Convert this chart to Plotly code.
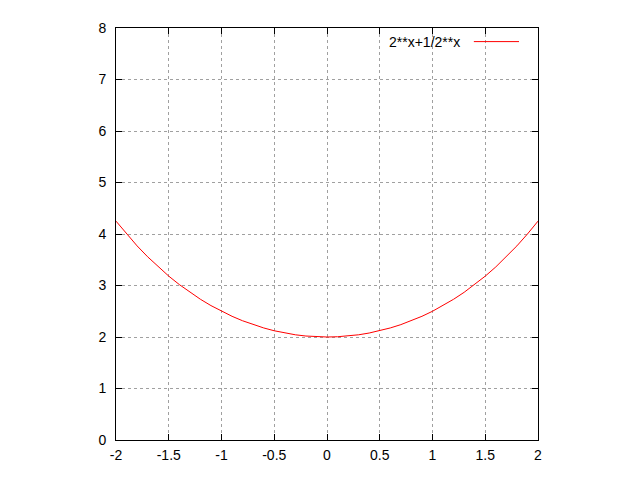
import plotly.graph_objects as go

# values
x_vals = [-2.0, -1.9, -1.8, -1.7, -1.6, -1.5, -1.4, -1.3, -1.2, -1.1, -1.0,
          -0.9, -0.8, -0.7, -0.6, -0.5, -0.4, -0.3, -0.2, -0.1, 0.0,
          0.1, 0.2, 0.3, 0.4, 0.5, 0.6, 0.7, 0.8, 0.9, 1.0,
          1.1, 1.2, 1.3, 1.4, 1.5, 1.6, 1.7, 1.8, 1.9, 2.0]
y_vals = [4.25, 4.00, 3.769, 3.557, 3.361, 3.182, 3.018, 2.868, 2.733, 2.610, 2.5,
          2.402, 2.315, 2.240, 2.176, 2.121, 2.077, 2.043, 2.019, 2.005, 2.0,
          2.005, 2.019, 2.043, 2.077, 2.121, 2.176, 2.240, 2.315, 2.402, 2.5,
          2.610, 2.733, 2.868, 3.018, 3.182, 3.361, 3.557, 3.769, 4.00, 4.25]
x_ticks = [-2, -1.5, -1, -0.5, 0, 0.5, 1, 1.5, 2]
x_tick_labels = ["-2", "-1.5", "-1", "-0.5", "0", "0.5", "1", "1.5", "2"]
y_ticks = [0, 1, 2, 3, 4, 5, 6, 7, 8]
series_name = "2**x+1/2**x"

FONT = dict(family="Liberation Sans, Arial", size=14, color="black")

fig = go.Figure()
fig.add_trace(go.Scatter(x=x_vals, y=y_vals, mode="lines",
                         line=dict(color="#ff0000", width=1),
                         name=series_name, showlegend=False, hoverinfo="skip"))

axis_common = dict(
    showline=True, linecolor="black", linewidth=1, mirror="allticks",
    ticks="inside", ticklen=6, tickcolor="black", tickwidth=1,
    showgrid=True, gridcolor="#a0a0a0", griddash="dot", gridwidth=1,
    zeroline=False, tickfont=FONT,
)

fig.update_xaxes(range=[-2, 2], tickvals=x_ticks, ticktext=x_tick_labels,
                 ticklabelstandoff=2, **axis_common)
fig.update_yaxes(range=[0, 8], tickvals=y_ticks, ticklabelstandoff=6, **axis_common)

fig.add_annotation(xref="paper", yref="paper", x=0.82, y=0.967,
                   text=series_name, showarrow=False, xanchor="right", yanchor="middle",
                   font=FONT)
fig.add_shape(type="line", xref="paper", yref="paper", x0=0.848, x1=0.955, y0=0.967, y1=0.967,
              line=dict(color="#ff0000", width=1))

fig.update_layout(width=640, height=480, margin=dict(l=108, r=110, t=12, b=48),
                  plot_bgcolor="white", paper_bgcolor="white")

fig.write_html("out.html")
